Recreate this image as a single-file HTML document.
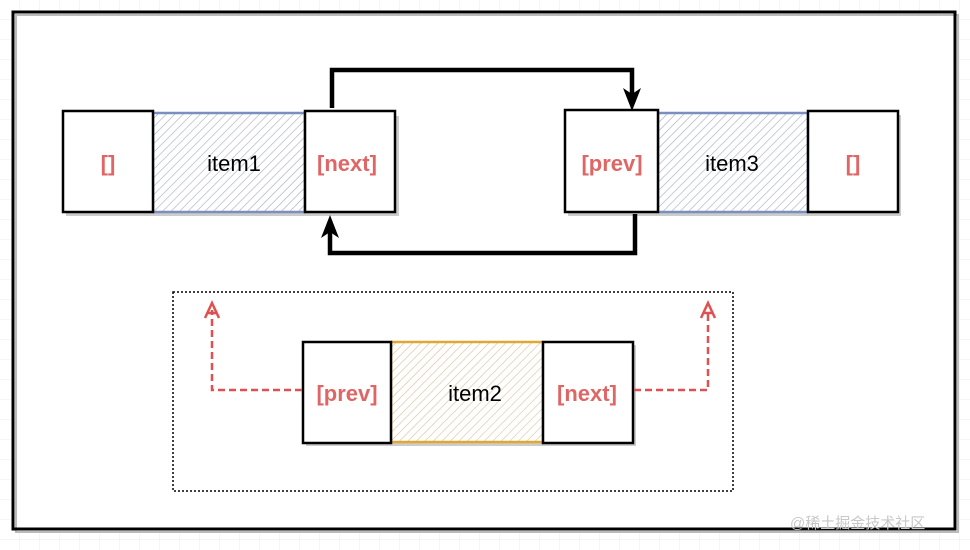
<!DOCTYPE html>
<html><head><meta charset="utf-8"><style>
html,body{margin:0;padding:0;background:#fff;}
svg{display:block;}
text{font-family:"Liberation Sans","Noto Sans CJK SC",sans-serif;}
</style></head><body>
<svg width="970" height="550" viewBox="0 0 970 550" xmlns="http://www.w3.org/2000/svg">
<defs>
<pattern id="grid" width="20" height="20" patternUnits="userSpaceOnUse">
<path d="M20 0V20M0 20H20" stroke="#ececec" stroke-width="1" fill="none"/>
</pattern>
<pattern id="hb" width="6" height="6" patternUnits="userSpaceOnUse" patternTransform="rotate(45)">
<line x1="0" y1="0" x2="0" y2="6" stroke="#a8b0c0" stroke-width="1.3"/>
</pattern>
<pattern id="ho" width="6" height="6" patternUnits="userSpaceOnUse" patternTransform="rotate(45)">
<line x1="0" y1="0" x2="0" y2="6" stroke="#dcc4a0" stroke-width="1.3"/>
</pattern>
</defs>
<rect width="970" height="550" fill="url(#grid)"/>
<rect x="16" y="15" width="942" height="517" fill="#fff" stroke="#bbb" stroke-width="2"/>
<rect x="13" y="12" width="942" height="517" fill="none" stroke="#000" stroke-width="3"/>

<rect x="66" y="116" width="333" height="100" fill="#ccc"/>
<rect x="568" y="115" width="333" height="101" fill="#ccc"/>
<rect x="306" y="345" width="330" height="101" fill="#ccc"/>

<rect x="153" y="113" width="152" height="99" fill="#fff"/>
<rect x="153" y="113" width="152" height="99" fill="url(#hb)" stroke="#7a8fc0" stroke-width="2.5"/>
<rect x="63" y="111" width="90" height="101" fill="#fff" stroke="#000" stroke-width="2.5"/>
<rect x="305" y="111" width="90" height="101" fill="#fff" stroke="#000" stroke-width="2.5"/>
<text x="108" y="171" font-size="22" font-weight="bold" fill="#e06666" text-anchor="middle">[]</text>
<text x="234" y="171" font-size="22" fill="#000" text-anchor="middle">item1</text>
<text x="347" y="171" font-size="22" font-weight="bold" fill="#e06666" text-anchor="middle">[next]</text>

<rect x="658" y="113" width="150" height="99" fill="#fff"/>
<rect x="658" y="113" width="150" height="99" fill="url(#hb)" stroke="#7a8fc0" stroke-width="2.5"/>
<rect x="565" y="110" width="93" height="102" fill="#fff" stroke="#000" stroke-width="2.5"/>
<rect x="808" y="111" width="90" height="101" fill="#fff" stroke="#000" stroke-width="2.5"/>
<text x="612" y="171" font-size="22" font-weight="bold" fill="#e06666" text-anchor="middle">[prev]</text>
<text x="732" y="171" font-size="22" fill="#000" text-anchor="middle">item3</text>
<text x="853" y="171" font-size="22" font-weight="bold" fill="#e06666" text-anchor="middle">[]</text>

<path d="M332 108V70H632V98" fill="none" stroke="#000" stroke-width="4.5"/>
<polygon points="623,88 632,111 641,88 632,94" fill="#000"/>
<path d="M635 214V253H330V228" fill="none" stroke="#000" stroke-width="4.5"/>
<polygon points="321,238 330,215 339,238 330,232" fill="#000"/>

<rect x="173" y="292" width="560" height="199" fill="none" stroke="#000" stroke-width="1.5" stroke-dasharray="2,2"/>

<rect x="391" y="342" width="152" height="100" fill="#fff"/>
<rect x="391" y="342" width="152" height="100" fill="url(#ho)" stroke="#e0a830" stroke-width="2.5"/>
<rect x="303" y="342" width="88" height="101" fill="#fff" stroke="#000" stroke-width="2.5"/>
<rect x="543" y="342" width="90" height="101" fill="#fff" stroke="#000" stroke-width="2.5"/>
<text x="347" y="401" font-size="22" font-weight="bold" fill="#e06666" text-anchor="middle">[prev]</text>
<text x="475" y="401" font-size="22" fill="#000" text-anchor="middle">item2</text>
<text x="587" y="401" font-size="22" font-weight="bold" fill="#e06666" text-anchor="middle">[next]</text>

<path d="M302 390H212V310" fill="none" stroke="#e05050" stroke-width="2.5" stroke-dasharray="7,4"/>
<path d="M205 318L212 303L219 318M208 313L216 313" fill="none" stroke="#e05050" stroke-width="2.5"/>
<path d="M634 390H708V310" fill="none" stroke="#e05050" stroke-width="2.5" stroke-dasharray="7,4"/>
<path d="M701 318L708 303L715 318M704 313L712 313" fill="none" stroke="#e05050" stroke-width="2.5"/>

<text x="790" y="528" font-size="15" fill="#c8c8c8">@稀土掘金技术社区</text>
</svg>
</body></html>
